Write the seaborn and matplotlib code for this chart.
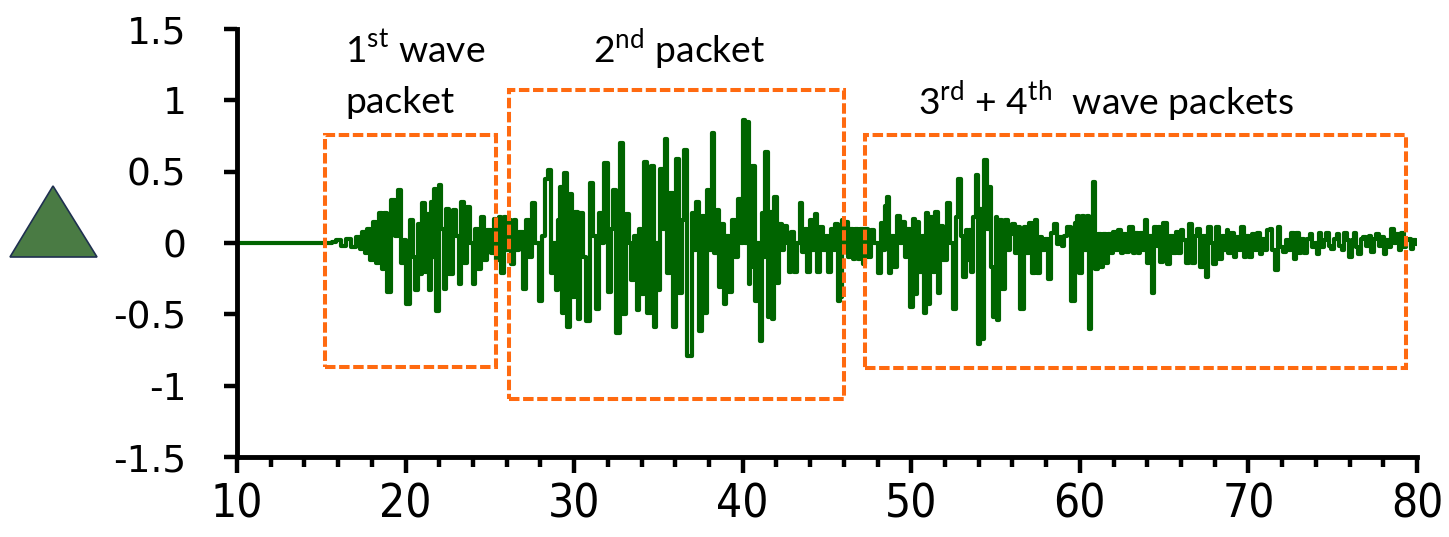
import numpy as np
import pandas as pd
import matplotlib
matplotlib.use("Agg")
import matplotlib.pyplot as plt
import seaborn as sns
from matplotlib.patches import Rectangle, Polygon
from matplotlib.ticker import FixedLocator

# ---------------- data ----------------
time_s = [
    10.0, 15.5, 15.8, 16.0, 16.3, 16.6, 16.9, 17.2, 17.35, 17.5, 17.65, 17.8, 17.95,
    18.15, 18.3, 18.5, 18.65, 18.75, 19.0, 19.3, 19.45, 19.65, 19.85, 19.95,
    20.15, 20.35, 20.5, 20.65, 20.8, 20.9, 21.05, 21.2, 21.35, 21.45, 21.55, 21.65,
    21.75, 21.9, 22.05, 22.2, 22.3, 22.5, 22.7, 22.9, 23.1, 23.2, 23.4, 23.55,
    23.75, 23.9, 24.05, 24.2, 24.35, 24.55, 24.75, 24.95, 25.15, 25.3, 25.45,
    25.6, 25.75, 25.9, 26.05, 26.2, 26.35, 26.5, 26.65, 26.85, 27.05, 27.25,
    27.45, 27.6, 27.8, 28.0, 28.2, 28.4, 28.55, 28.7, 28.85, 28.95, 29.1, 29.25,
    29.35, 29.5, 29.65, 29.8, 29.95, 30.1, 30.3, 30.45, 30.6, 30.8, 31.05, 31.2,
    31.35, 31.55, 31.7, 31.9, 32.1, 32.25, 32.4, 32.6, 32.8, 33.0, 33.2, 33.35,
    33.45, 33.6, 33.8, 33.9, 34.0, 34.25, 34.45, 34.65, 34.8, 34.9, 35.0, 35.2,
    35.3, 35.45, 35.6, 35.8, 35.95, 36.15, 36.3, 36.45, 36.6, 36.8, 36.9, 37.05,
    37.15, 37.3, 37.5, 37.65, 37.8, 37.95, 38.1, 38.25, 38.4, 38.5, 38.65, 38.8,
    38.95, 39.1, 39.25, 39.45, 39.6, 39.8, 39.95, 40.1, 40.2, 40.3, 40.4, 40.5,
    40.65, 40.8, 40.95, 41.1, 41.2, 41.3, 41.4, 41.55, 41.7, 41.8, 41.95, 42.1,
    42.25, 42.4, 42.55, 42.65, 42.8, 42.95, 43.1, 43.3, 43.45, 43.6, 43.75, 43.9,
    44.05, 44.2, 44.35, 44.5, 44.7, 44.85, 45.0, 45.15, 45.35, 45.45, 45.55,
    45.75, 45.85, 45.95, 46.05, 46.15, 46.3, 46.45, 46.6, 46.75, 46.9, 47.05,
    47.2, 47.35, 47.55, 47.7, 47.9, 48.1, 48.25, 48.4, 48.5, 48.6, 48.75, 48.9,
    49.0, 49.25, 49.4, 49.55, 49.7, 49.85, 50.0, 50.15, 50.25, 50.4, 50.55, 50.7,
    50.8, 50.9, 51.05, 51.2, 51.35, 51.5, 51.65, 51.8, 52.0, 52.2, 52.35, 52.55,
    52.7, 52.85, 53.0, 53.15, 53.3, 53.4, 53.5, 53.6, 53.75, 53.9, 54.05, 54.15,
    54.25, 54.4, 54.55, 54.65, 54.8, 54.95, 55.05, 55.15, 55.3, 55.5, 55.65,
    55.8, 55.9, 56.05, 56.2, 56.35, 56.6, 56.75, 56.9, 57.05, 57.25, 57.4, 57.55,
    57.7, 57.85, 58.0, 58.2, 58.35, 58.55, 58.7, 58.85, 59.0, 59.15, 59.35,
    59.55, 59.65, 59.8, 59.9, 60.05, 60.2, 60.35, 60.45, 60.6, 60.7, 60.85, 61.0,
    61.15, 61.3, 61.45, 61.6, 61.75, 61.9, 62.05, 62.2, 62.35, 62.5, 62.65, 62.8,
    63.05, 63.2, 63.35, 63.5, 63.65, 63.8, 63.95, 64.05, 64.2, 64.35, 64.5, 64.6,
    64.7, 64.85, 65.05, 65.3, 65.45, 65.6, 65.75, 65.9, 66.05, 66.2, 66.4, 66.6,
    66.75, 66.9, 67.05, 67.25, 67.4, 67.55, 67.7, 67.85, 68.0, 68.15, 68.35,
    68.5, 68.65, 68.75, 68.85, 69.05, 69.2, 69.35, 69.5, 69.65, 69.8, 69.95,
    70.1, 70.3, 70.45, 70.6, 70.75, 70.9, 71.05, 71.2, 71.35, 71.5, 71.65, 71.8,
    72.0, 72.15, 72.3, 72.45, 72.6, 72.75, 72.9, 73.05, 73.2, 73.4, 73.55, 73.7,
    73.85, 74.0, 74.1, 74.25, 74.4, 74.55, 74.7, 74.85, 75.0, 75.15, 75.3, 75.45,
    75.6, 75.75, 75.9, 76.05, 76.2, 76.3, 76.45, 76.6, 76.75, 76.9, 77.05, 77.2,
    77.35, 77.5, 77.65, 77.8, 77.95, 78.1, 78.25, 78.4, 78.55, 78.7, 78.85, 79.0,
    79.15, 79.3, 79.45, 79.6, 79.7, 79.85, 80.0,
]

amplitude = [
    0.0, 0.0, 0.01, 0.02, -0.02, 0.03, -0.03, 0.04, -0.04, 0.08, -0.07, 0.10, -0.12,
    0.15, -0.14, 0.21, -0.18, 0.21, -0.34, 0.30, 0.05, 0.37, -0.14, 0.02,
    -0.43, 0.16, -0.10, -0.33, 0.13, -0.22, 0.28, -0.20, 0.20, -0.33, 0.29, -0.10,
    0.38, -0.48, 0.41, 0.10, -0.32, 0.24, -0.22, 0.23, 0.05, -0.29, 0.29, -0.14,
    0.25, 0.0, -0.29, 0.10, -0.18, 0.18, -0.12, 0.09, -0.07, 0.17, -0.12,
    0.18, -0.21, 0.18, -0.05, 0.16, -0.15, 0.16, -0.05, 0.08, -0.32, 0.16,
    -0.10, 0.28, 0.0, -0.41, 0.05, 0.45, 0.51, -0.21, 0.0, -0.33, 0.16, 0.39,
    -0.49, 0.49, -0.59, 0.34, -0.38, 0.22, -0.53, 0.21, -0.10, -0.55, 0.42, 0.05,
    -0.46, 0.21, 0.0, 0.56, -0.34, 0.10, 0.37, -0.63, 0.70, -0.50, 0.20, 0.0,
    -0.26, 0.05, -0.47, 0.10, -0.36, 0.57, -0.49, 0.54, -0.59, 0.0, -0.33, 0.52,
    0.10, 0.73, -0.21, 0.35, -0.59, 0.59, -0.35, 0.16, 0.65, -0.79, -0.79, 0.21,
    -0.05, 0.29, -0.62, 0.19, -0.49, 0.37, -0.05, 0.77, -0.07, 0.23, -0.31, 0.13,
    -0.43, 0.05, -0.34, 0.16, -0.10, 0.31, 0.0, 0.86, 0.0, 0.85, -0.29, -0.17,
    0.54, -0.41, 0.0, -0.69, 0.21, -0.10, 0.64, -0.52, 0.22, -0.53, 0.32, -0.28,
    0.13, -0.05, 0.12, 0.0, -0.20, 0.08, -0.20, 0.0, 0.28, -0.06, 0.10, -0.20,
    0.16, -0.05, 0.20, -0.20, 0.11, -0.05, 0.05, -0.20, 0.10, -0.05, 0.13,
    -0.41, -0.38, 0.16, -0.05, 0.15, -0.10, 0.10, -0.11, 0.10, -0.11, 0.10,
    -0.15, 0.10, -0.10, 0.09, 0.0, -0.21, 0.14, -0.05, 0.26, 0.32, -0.21, 0.05,
    -0.17, 0.19, 0.0, 0.15, -0.10, 0.10, -0.45, 0.17, -0.36, 0.15, -0.20, 0.05,
    -0.49, 0.21, -0.43, 0.18, -0.20, 0.22, -0.35, 0.12, -0.12, 0.28, 0.0, -0.46,
    0.18, 0.45, 0.05, -0.24, 0.09, -0.12, 0.09, -0.20, 0.18, 0.48, -0.71, 0.24,
    -0.67, 0.58, 0.10, 0.39, -0.17, -0.52, 0.18, -0.54, 0.16, -0.32, 0.16,
    -0.05, 0.06, 0.13, -0.07, 0.11, -0.46, 0.11, -0.07, 0.14, -0.21, 0.16, -0.21,
    0.04, -0.05, 0.03, -0.25, 0.07, 0.13, -0.01, 0.04, -0.02, 0.05, 0.11,
    -0.41, -0.41, 0.14, 0.19, -0.21, 0.19, -0.05, 0.19, -0.60, 0.16, 0.43, -0.18,
    0.06, -0.17, 0.06, -0.14, 0.06, -0.07, 0.08, -0.05, 0.09, -0.07, 0.06, -0.06,
    0.11, -0.07, 0.07, -0.07, 0.07, -0.05, 0.16, -0.14, 0.05, -0.35, 0.11, -0.02,
    0.11, -0.13, 0.14, -0.15, 0.05, -0.07, 0.08, -0.07, 0.09, 0.02, -0.14, 0.13,
    -0.14, 0.05, 0.10, -0.17, 0.05, -0.24, 0.11, 0.0, -0.15, 0.11, -0.11,
    0.05, -0.05, 0.09, -0.07, 0.07, -0.10, 0.04, -0.05, 0.11, -0.10, 0.05,
    -0.10, 0.06, -0.05, 0.07, -0.08, 0.03, -0.05, 0.09, 0.10, -0.05, -0.19, 0.11,
    -0.03, -0.06, 0.02, -0.05, 0.07, -0.11, 0.07, -0.07, 0.03, -0.07, 0.03, 0.06,
    -0.03, 0.0, -0.08, 0.07, -0.03, 0.02, 0.07, -0.02, -0.04, 0.03, 0.06, -0.02,
    -0.05, 0.07, 0.02, -0.10, 0.02, 0.07, -0.03, -0.08, 0.03, 0.04, -0.02, 0.05,
    -0.06, 0.03, 0.06, -0.02, 0.04, -0.08, 0.02, -0.03, 0.10, 0.0, 0.06, -0.05,
    0.07, -0.03, 0.02, 0.03, -0.04, 0.02, -0.01,
]

y_ticks = [-1.5, -1.0, -0.5, 0.0, 0.5, 1.0, 1.5]
y_tick_labels = ["-1.5", "-1", "-0.5", "0", "0.5", "1", "1.5"]
x_ticks = [10, 20, 30, 40, 50, 60, 70, 80]
x_tick_labels = ["10", "20", "30", "40", "50", "60", "70", "80"]
x_minor_ticks = [12, 14, 16, 18, 22, 24, 26, 28, 32, 34, 36, 38, 42, 44, 46, 48,
                 52, 54, 56, 58, 62, 64, 66, 68, 72, 74, 76, 78]

packet_labels = ["1$^{\\mathregular{st}}$ wave", "packet",
                 "2$^{\\mathregular{nd}}$ packet",
                 "3$^{\\mathregular{rd}}$ + 4$^{\\mathregular{th}}$  wave packets"]

# ---------------- style ----------------
sns.set_style("ticks")
plt.rcParams["font.family"] = ["DejaVu Sans"]
plt.rcParams["axes.unicode_minus"] = False

W, H = 1449, 537
fig = plt.figure(figsize=(W / 100, H / 100), dpi=100)
fig.patch.set_facecolor("white")
ax = fig.add_axes([237 / W, 1 - 457 / H, (1417 - 237) / W, (457 - 29) / H])
ax.set_facecolor("white")

df = pd.DataFrame({"t": time_s, "a": amplitude})
sns.lineplot(data=df, x="t", y="a", ax=ax, color="#006400", linewidth=3.0,
             estimator=None, sort=False, zorder=2, drawstyle="steps-mid")

ax.set_xlim(10, 80)
ax.set_ylim(-1.5, 1.5)
ax.set_xlabel("")
ax.set_ylabel("")

for s in ["top", "right"]:
    ax.spines[s].set_visible(False)
for s in ["left", "bottom"]:
    ax.spines[s].set_linewidth(3.5)
    ax.spines[s].set_color("black")

ax.set_yticks(y_ticks, labels=y_tick_labels, fontsize=27,
              family=["DejaVu Sans"])
ax.set_xticks(x_ticks, labels=x_tick_labels, fontsize=33,
              family=["DejaVu Sans"], fontstretch="condensed")
ax.xaxis.set_minor_locator(FixedLocator(x_minor_ticks))

ax.tick_params(axis="y", which="major", direction="out", length=9.5, width=3.2,
               color="black", pad=27, labelcolor="black")
ax.tick_params(axis="x", which="major", direction="out", length=11.5, width=3.2,
               color="black", pad=7, labelcolor="black")
ax.tick_params(axis="x", which="minor", direction="out", length=7, width=3.2,
               color="black")

# ---------------- wave packet boxes ----------------
orange = "#FF6A10"
boxes = [(15.22, -0.869, 25.36, 0.757), (26.13, -1.093, 46.0, 1.072),
         (47.25, -0.876, 79.34, 0.757)]
for x0, y0, x1, y1 in boxes:
    ax.add_patch(Rectangle((x0, y0), x1 - x0, y1 - y0, fill=False,
                           edgecolor=orange, linewidth=2.9,
                           linestyle=(0, (2.6, 0.9)), zorder=3, clip_on=False))

# ---------------- labels ----------------
tfont = dict(family=["Lato", "DejaVu Sans"], fontsize=26.8, color="black",
             ha="left", va="baseline")
fig.text(345 / W, 1 - 63 / H, packet_labels[0], **tfont)
fig.text(345 / W, 1 - 113 / H, packet_labels[1], **tfont)
fig.text(593 / W, 1 - 63 / H, packet_labels[2], **tfont)
fig.text(918 / W, 1 - 115 / H, packet_labels[3], **tfont)

# ---------------- station triangle ----------------
tri = Polygon([(53 / W, 1 - 186 / H), (10 / W, 1 - 257 / H), (97 / W, 1 - 257 / H)],
              closed=True, transform=fig.transFigure, facecolor="#4A7B44",
              edgecolor="#1F3050", linewidth=1.2)
fig.add_artist(tri)

fig.savefig("out.png", dpi=100, facecolor="white")
